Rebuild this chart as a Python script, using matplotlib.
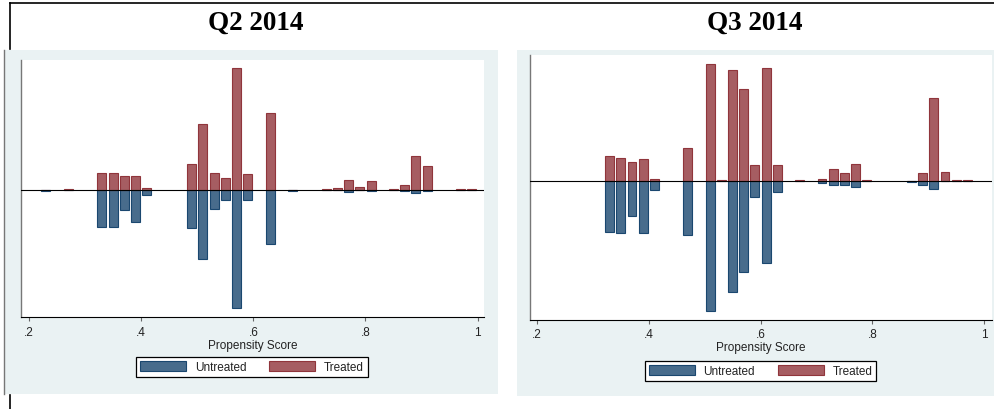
import matplotlib
matplotlib.use("Agg")
import matplotlib.pyplot as plt
from matplotlib.patches import Rectangle, Patch
from matplotlib.lines import Line2D

W, H = 995, 410

# Q2 2014 histogram (bin centre, bar heights)
q2_bins = [0.23, 0.27, 0.33, 0.35, 0.37, 0.39, 0.41, 0.49, 0.51, 0.53, 0.55, 0.57, 0.59,
           0.63, 0.67, 0.73, 0.75, 0.77, 0.79, 0.81, 0.85, 0.87, 0.89, 0.91, 0.97, 0.99]
q2_treated = [0, 1, 17, 17, 14, 14, 2, 26, 66, 17, 12, 122, 16,
              77, 0, 1, 2, 10, 3, 9, 1, 5, 34, 24, 1, 1]
q2_untreated = [0.8, 0, 37, 37, 20, 32, 5, 38, 69, 19, 10, 118, 10,
                54, 0.8, 0, 0, 2, 0, 1, 0, 1, 3, 1, 0, 0]

# Q3 2014 histogram
q3_bins = [0.33, 0.35, 0.37, 0.39, 0.41, 0.47, 0.51, 0.53, 0.55, 0.57, 0.59, 0.61, 0.63,
           0.67, 0.71, 0.73, 0.75, 0.77, 0.79, 0.87, 0.89, 0.91, 0.93, 0.95, 0.97]
q3_treated = [25, 23, 19, 22, 2, 33, 117, 1, 111, 92, 16, 113, 16,
              1, 2, 12, 8, 17, 1, 0, 8, 83, 9, 1, 1]
q3_untreated = [51, 52, 35, 52, 9, 54, 130, 0, 111, 91, 16, 82, 11,
                0, 2, 4, 4, 6, 0, 1, 4, 8, 0, 0, 0]

tick_vals = [0.2, 0.4, 0.6, 0.8, 1.0]
tick_labels = [".2", ".4", ".6", ".8", "1"]
titles = ["Q2 2014", "Q3 2014"]
legend_labels = ["Untreated", "Treated"]
xlabel = "Propensity Score"

NAVY = "#1a476f"
NAVY_FILL = "#486c8c"
MAROON = "#90353b"
MAROON_FILL = "#a65d62"
BG = "#eaf2f3"

plt.rcParams['font.family'] = ['Liberation Sans', 'DejaVu Sans']


def fx(x):
    return x / W


def fy(y):
    return 1 - y / H


def box(x0, y0, x1, y1):
    # pixel box (top-left origin) -> figure fraction rect
    return [fx(x0), fy(y1), (x1 - x0) / W, (y1 - y0) / H]


fig = plt.figure(figsize=(W / 100, H / 100), dpi=100)

# grey-blue graph regions
for (x0, y0, x1, y1) in [(4, 51, 497.7, 395), (517.3, 51, 995, 396.7)]:
    r = box(x0, y0, x1, y1)
    fig.patches.append(Rectangle((r[0], r[1]), r[2], r[3], transform=fig.transFigure,
                                 facecolor=BG, edgecolor="none", zorder=-5))

# document frame lines
fig.lines.append(Line2D([fx(10), fx(995)], [fy(3.8), fy(3.8)], transform=fig.transFigure,
                        color="black", lw=1.2, zorder=-4))
fig.lines.append(Line2D([fx(10), fx(10)], [fy(3.8), fy(50)], transform=fig.transFigure,
                        color="black", lw=1.2, zorder=-4))
fig.lines.append(Line2D([fx(10), fx(10)], [fy(396), fy(410)], transform=fig.transFigure,
                        color="black", lw=1.2, zorder=-4))
fig.lines.append(Line2D([fx(4.3), fx(4.3)], [fy(51), fy(395)], transform=fig.transFigure,
                        color="#777777", lw=1.0, zorder=-4))

panels = [
    dict(rect=box(20.7, 60.7, 484.3, 318.3), xlim=(0.185, 1.012), ylim=(-127.3, 130.3),
         bins=q2_bins, treated=q2_treated, untreated=q2_untreated,
         title_xy=(255.5, 29.5), leg_xy=(252, 368)),
    dict(rect=box(530, 55.7, 991.7, 320.7), xlim=(0.1875, 1.0136), ylim=(-139, 126),
         bins=q3_bins, treated=q3_treated, untreated=q3_untreated,
         title_xy=(754.5, 29.5), leg_xy=(760.5, 372)),
]

for p, title in zip(panels, titles):
    ax = fig.add_axes(p["rect"])
    ax.set_facecolor("white")
    neg = [-v for v in p["untreated"]]
    ax.bar(p["bins"], neg, width=0.016, color=NAVY_FILL, edgecolor=NAVY, lw=0.8, zorder=2)
    ax.bar(p["bins"], p["treated"], width=0.016, color=MAROON_FILL, edgecolor=MAROON, lw=0.8, zorder=2)
    ax.axhline(0, color="black", lw=0.8, zorder=3)
    ax.set_xlim(*p["xlim"])
    ax.set_ylim(*p["ylim"])
    ax.set_yticks([])
    ax.set_xticks(tick_vals)
    ax.set_xticklabels(tick_labels)
    ax.tick_params(axis="x", length=3, width=0.8, color="#666666", pad=3,
                   labelsize=8.5, labelcolor="#222222")
    ax.set_xlabel(xlabel, fontsize=8.5, color="#222222", labelpad=1)
    for s in ["top", "right"]:
        ax.spines[s].set_visible(False)
    ax.spines["left"].set_color("#777777")
    ax.spines["left"].set_linewidth(1.0)
    ax.spines["bottom"].set_color("black")
    ax.spines["bottom"].set_linewidth(0.8)

    fig.text(fx(p["title_xy"][0]), fy(p["title_xy"][1]), title, ha="center", va="baseline",
             family=["Liberation Serif", "DejaVu Serif"], weight="bold", fontsize=19.5)

    handles = [Patch(facecolor=NAVY_FILL, edgecolor=NAVY, lw=0.8),
               Patch(facecolor=MAROON_FILL, edgecolor=MAROON, lw=0.8)]
    leg = ax.legend(handles, legend_labels, loc="center", ncol=2,
                    bbox_to_anchor=(fx(p["leg_xy"][0]), fy(p["leg_xy"][1])),
                    bbox_transform=fig.transFigure, frameon=True, fancybox=False,
                    fontsize=8.5, handlelength=3.9, handleheight=0.85, handletextpad=0.75,
                    columnspacing=1.9, borderpad=0.35, borderaxespad=0)
    leg.get_frame().set_edgecolor("black")
    leg.get_frame().set_linewidth(0.9)
    leg.get_frame().set_facecolor("white")
    leg.get_frame().set_alpha(1)
    for t in leg.get_texts():
        t.set_color("#222222")

fig.savefig("out.png", dpi=100)
